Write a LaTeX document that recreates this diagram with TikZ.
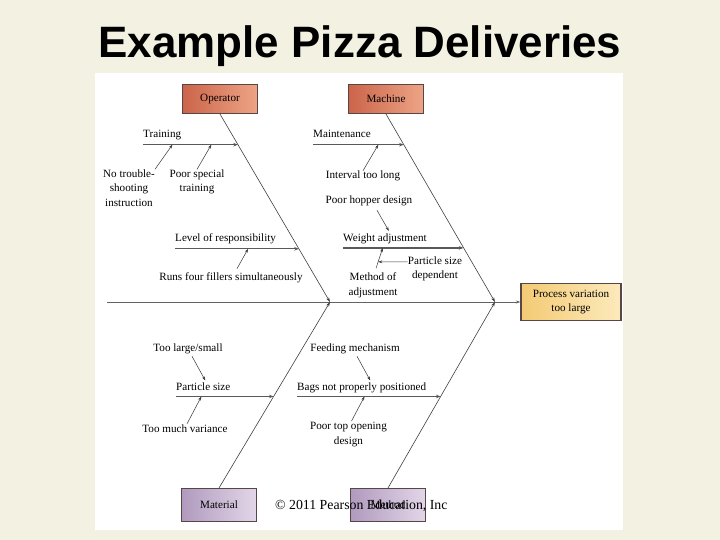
\documentclass[tikz,border=0pt]{standalone}
\usepackage{fontspec}
\setmainfont{Liberation Serif}
\newfontfamily\headfont{Liberation Sans}
\usetikzlibrary{arrows.meta,calc}
\definecolor{slidebg}{RGB}{243,242,226}
\definecolor{oplo}{RGB}{203,100,74}
\definecolor{ophi}{RGB}{238,164,134}
\definecolor{mtlo}{RGB}{176,154,190}
\definecolor{mthi}{RGB}{226,214,232}
\definecolor{eflo}{RGB}{244,202,116}
\definecolor{efhi}{RGB}{252,234,188}
\definecolor{boxrim}{RGB}{88,70,68}
\definecolor{stroke}{RGB}{60,60,60}

\begin{document}
\begin{tikzpicture}[x=0.03cm,y=-0.03cm,
  txt/.style={font=\fontsize{9.5}{12.5}\selectfont,inner sep=0pt,align=center},
  catbox/.style={draw=boxrim,line width=.9pt,minimum width=2.25cm,minimum height=.87cm,font=\fontsize{9.5}{11.5}\selectfont},
  redbox/.style={catbox,left color=oplo,right color=ophi},
  violetbox/.style={catbox,minimum height=.99cm,left color=mtlo,right color=mthi},
  yellowbox/.style={catbox,minimum width=3cm,minimum height=1.11cm,align=center,left color=eflo,right color=efhi},
  spine/.style={draw=stroke!80,line width=.6pt,-{Stealth[length=4pt,width=2.6pt]}},
  bone/.style={draw=stroke,line width=.5pt,-{Stealth[length=4pt,width=2.6pt]}},
  branch/.style={draw=stroke!85,line width=1.1pt,-{Stealth[length=4pt,width=3pt]}},
  cause/.style={draw=stroke,line width=.45pt,-{Stealth[length=3.5pt,width=2.4pt]}}]
  \fill[slidebg] (0,0) rectangle (720,540);
  \fill[white] (95,73) rectangle (623,530);
  \useasboundingbox (0,0) rectangle (720,540);
  \node[font=\headfont\bfseries\fontsize{37.5}{40}\selectfont,anchor=base] (ttl) at (360,58) {Example Pizza Deliveries};

  \node[redbox] (op) at (220,99) {Operator};
  \node[redbox] (mc) at (386,99) {Machine};
  \node[violetbox] (mt) at (219,505) {Material};
  \node[violetbox] (md) at (388,505) {Method};
  \node[yellowbox] (eff) at (571,302) {Process variation\\too large};

  \coordinate (s0) at (107,302);
  \coordinate (j1) at (330,302);
  \coordinate (j2) at (495,302);
  \draw[spine] (s0) -- (eff.west);

  \draw[bone] (op.south) -- coordinate[pos=.163](b1) coordinate[pos=.717](b2) (j1);
  \draw[bone] (mc.south) -- coordinate[pos=.163](b3) coordinate[pos=.712](b4) (j2);
  \draw[bone] (mt.north) -- coordinate[pos=.492](b5) (j1);
  \draw[bone] (md.north) -- coordinate[pos=.492](b6) (j2);

  \node[txt,anchor=base west] (trn) at (143,138) {Training};
  \draw[branch] (trn.west |- b1) -- coordinate[pos=.31](t1) coordinate[pos=.72](t2) (b1);
  \node[txt] (nts) at (129,188) {No trouble-\\shooting\\instruction};
  \draw[cause] (nts.north east) -- (t1);
  \node[txt] (pst) at (197,182) {Poor special\\training};
  \draw[cause] (pst.north) -- (t2);
  \node[txt,anchor=base west] (lor) at (175,242) {Level of responsibility};
  \draw[branch] (lor.west |- b2) -- coordinate[pos=.59](l1) (b2);
  \node[txt] (rff) at (231,278) {Runs four fillers simultaneously};
  \draw[cause] ($(rff.north)+(6,-4)$) -- (l1);

  \node[txt,anchor=base west] (mnt) at (313,138) {Maintenance};
  \draw[branch] (mnt.west |- b3) -- coordinate[pos=.72](m1) (b3);
  \node[txt] (itl) at (363,176) {Interval too long};
  \draw[cause] (itl.north) -- (m1);
  \node[txt] (phd) at (369,201) {Poor hopper design};
  \node[txt,anchor=base west] (wad) at (343,242) {Weight adjustment};
  \draw[branch] (wad.west |- b4) -- coordinate[pos=.38](w1) coordinate[pos=.33](w2) (b4);
  \draw[cause] ($(phd.south)+(8,4)$) -- ($(w1)+(0,-17)$);
  \node[txt] (moa) at (373,285) {Method of\\adjustment};
  \draw[cause] ($(moa.north)+(3,-4)$) -- coordinate[pos=.32](a1) (w2);
  \node[txt] (psd) at (435,269) {Particle size\\dependent};
  \draw[cause] ([yshift=6pt]psd.west) -- (a1);

  \node[txt,anchor=base west] (pts) at (176,390) {Particle size};
  \draw[branch] (pts.west |- b5) -- coordinate[pos=.3](p1) coordinate[pos=.26](p2) (b5);
  \node[txt] (tls) at (188,349) {Too large/small};
  \draw[cause] ($(tls.south)+(4,2)$) -- ($(p1)+(0,-16)$);
  \node[txt] (tmv) at (185,429) {Too much variance};
  \draw[cause] ($(tmv.north)+(2,-1)$) -- (p2);

  \node[txt,anchor=base west] (bnp) at (297,390) {Bags not properly positioned};
  \draw[branch] (bnp.west |- b6) -- coordinate[pos=.51](q1) coordinate[pos=.47](q2) (b6);
  \node[txt] (fdm) at (355,349) {Feeding mechanism};
  \draw[cause] ($(fdm.south)+(2,2)$) -- ($(q1)+(0,-16)$);
  \node[txt] (pto) at (348.5,434.5) {Poor top opening\\design};
  \draw[cause] ($(pto.north)+(3,-1)$) -- (q2);

  \node[font=\fontsize{11.8}{13}\selectfont,anchor=base west] (cpr) at (271,509) {\textcopyright\ 2011 Pearson Education, Inc};
\end{tikzpicture}
\end{document}
